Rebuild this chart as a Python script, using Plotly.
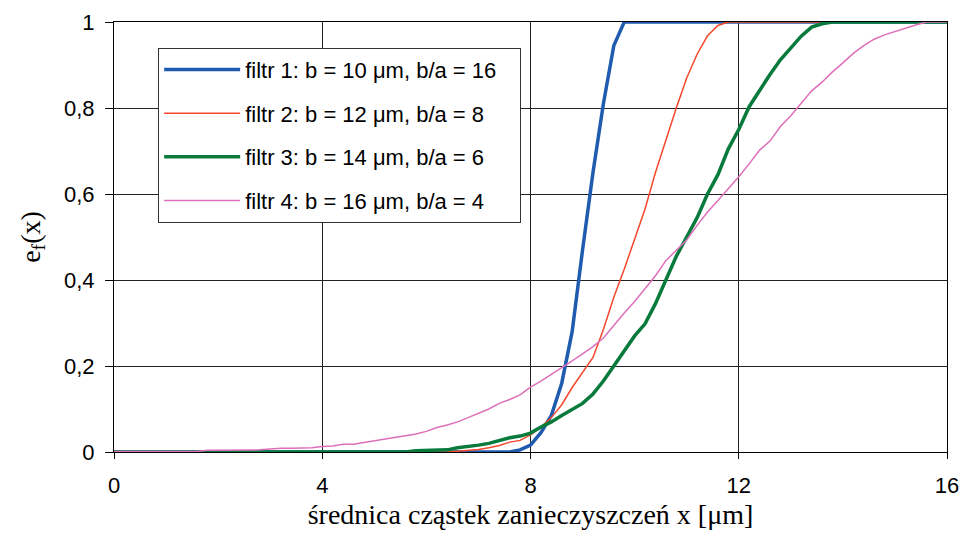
import plotly.graph_objects as go

# Filter 1
x1 = [0, 7.6, 7.8, 8.0, 8.2, 8.4, 8.6, 8.8, 9.0, 9.2, 9.4, 9.6, 9.8, 16]
y1 = [0, 0, 0.005, 0.016, 0.045, 0.085, 0.16, 0.28, 0.47, 0.65, 0.81, 0.945, 1.0, 1.0]

# Filter 2
x2 = [0, 6.4, 6.6, 6.8, 7.0, 7.2, 7.4, 7.6, 7.8, 8.0, 8.2, 8.4, 8.6, 8.8, 9.0, 9.2, 9.4,
      9.6, 9.8, 10.0, 10.2, 10.4, 10.6, 10.8, 11.0, 11.2, 11.4, 11.6, 11.8, 16]
y2 = [0, 0, 0.002, 0.004, 0.006, 0.01, 0.015, 0.023, 0.027, 0.04, 0.058, 0.08, 0.11, 0.15,
      0.185, 0.22, 0.285, 0.36, 0.425, 0.493, 0.565, 0.65, 0.726, 0.80, 0.87, 0.925, 0.968,
      0.992, 1.0, 1.0]

# Filter 3
x3 = [0, 5.6, 5.8, 6.0, 6.2, 6.4, 6.6, 6.8, 7.0, 7.2, 7.4, 7.6, 7.8, 8.0, 8.2, 8.4, 8.6,
      8.8, 9.0, 9.2, 9.4, 9.6, 9.8, 10.0, 10.2, 10.4, 10.6, 10.8, 11.0, 11.2, 11.4, 11.6,
      11.8, 12.0, 12.2, 12.4, 12.6, 12.8, 13.0, 13.2, 13.4, 13.6, 13.8, 16]
y3 = [0, 0, 0.003, 0.004, 0.004, 0.005, 0.01, 0.012, 0.016, 0.02, 0.027, 0.033, 0.037,
      0.044, 0.058, 0.07, 0.085, 0.099, 0.113, 0.135, 0.165, 0.2, 0.235, 0.27, 0.298,
      0.345, 0.4, 0.455, 0.5, 0.545, 0.6, 0.645, 0.705, 0.75, 0.803, 0.842, 0.878, 0.912,
      0.94, 0.967, 0.988, 0.996, 1.0, 1.0]

# Filter 4
x4 = [0, 1.6, 1.8, 2.0, 2.4, 2.6, 2.8, 3.0, 3.2, 3.4, 3.6, 3.8, 4.0, 4.2, 4.4, 4.6, 4.8,
      5.0, 5.2, 5.4, 5.6, 5.8, 6.0, 6.2, 6.4, 6.6, 6.8, 7.0, 7.2, 7.4, 7.6, 7.8, 8.0, 8.2,
      8.4, 8.6, 8.8, 9.0, 9.2, 9.4, 9.6, 9.8, 10.0, 10.2, 10.4, 10.6, 10.8, 11.0, 11.2,
      11.4, 11.6, 11.8, 12.0, 12.2, 12.4, 12.6, 12.8, 13.0, 13.2, 13.4, 13.6, 13.8, 14.0,
      14.2, 14.4, 14.6, 14.8, 15.0, 15.2, 15.4, 15.6, 16]
y4 = [0.001, 0.002, 0.004, 0.004, 0.004, 0.005, 0.005, 0.007, 0.009, 0.009, 0.009, 0.01,
      0.013, 0.014, 0.018, 0.018, 0.022, 0.026, 0.03, 0.034, 0.038, 0.042, 0.048, 0.057,
      0.063, 0.07, 0.08, 0.09, 0.1, 0.113, 0.122, 0.133, 0.151, 0.165, 0.18, 0.197, 0.212,
      0.228, 0.245, 0.265, 0.295, 0.323, 0.35, 0.38, 0.41, 0.445, 0.47, 0.493, 0.527,
      0.558, 0.585, 0.612, 0.64, 0.67, 0.702, 0.723, 0.757, 0.782, 0.81, 0.84, 0.86,
      0.884, 0.905, 0.927, 0.945, 0.96, 0.97, 0.978, 0.985, 0.993, 1.0, 1.0]

names = ["filtr 1: b = 10 μm, b/a = 16", "filtr 2: b = 12 μm, b/a = 8",
         "filtr 3: b = 14 μm, b/a = 6", "filtr 4: b = 16 μm, b/a = 4"]
colors = ["#1f5cb0", "#f5472a", "#087a3c", "#de6fbb"]
widths = [3.5, 1.5, 3.5, 1.5]

x_ticks = [0, 4, 8, 12, 16]
x_labels = ["0", "4", "8", "12", "16"]
y_ticks = [0, 0.2, 0.4, 0.6, 0.8, 1]
y_labels = ["0", "0,2", "0,4", "0,6", "0,8", "1"]

NB = "\u00a0"

fig = go.Figure()
for i, (xs, ys) in enumerate([(x1, y1), (x2, y2), (x3, y3), (x4, y4)]):
    fig.add_trace(go.Scatter(x=xs, y=ys, mode="lines", name=names[i] + NB * 3,
                             legendgroup=str(i),
                             line=dict(color=colors[i], width=widths[i])))

axis_common = dict(showline=True, linecolor="black", linewidth=1, mirror=True,
                   showgrid=True, gridcolor="#222", gridwidth=1, zeroline=False,
                   ticks="outside", tickcolor="black", automargin=False,
                   tickfont=dict(family="Liberation Sans, Arial", size=22, color="black"))

fig.update_xaxes(range=[0, 16], tickvals=x_ticks, ticktext=x_labels, ticklen=6,
                 ticklabelstandoff=8,
                 title=dict(text="średnica cząstek zanieczyszczeń x [μm]",
                            font=dict(family="Liberation Serif, Times New Roman", size=28,
                                      color="black"), standoff=6),
                 **axis_common)
fig.update_yaxes(range=[0, 1], tickvals=y_ticks, ticktext=[t + NB for t in y_labels],
                 ticklen=8,
                 title=dict(text="e<sub>f</sub>(x)",
                            font=dict(family="Liberation Serif, Times New Roman", size=28,
                                      color="black"), standoff=15),
                 **axis_common)

fig.update_layout(
    width=966, height=541,
    margin=dict(l=114, r=19, t=22, b=89),
    paper_bgcolor="white", plot_bgcolor="white",
    legend=dict(x=0.053, y=0.94, xanchor="left", yanchor="top",
                bgcolor="white", bordercolor="#333", borderwidth=1,
                font=dict(family="Liberation Sans, Arial", size=22, color="black"),
                traceorder="grouped", tracegroupgap=12, itemwidth=76),
    showlegend=True,
)

fig.write_html("out.html", config={"displayModeBar": False},
               post_script="document.body.style.margin='0';")
